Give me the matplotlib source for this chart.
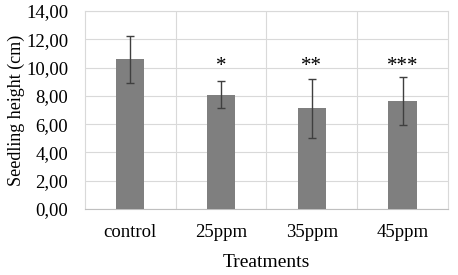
import matplotlib.pyplot as plt
import numpy as np

# data
treatments = ["control", "25ppm", "35ppm", "45ppm"]
heights = [10.59, 8.08, 7.12, 7.66]
errors = [1.66, 0.97, 2.08, 1.70]
stars = ["", "*", "**", "***"]
y_ticks = [0, 2, 4, 6, 8, 10, 12, 14]

plt.rcParams["font.family"] = ["Liberation Serif", "DejaVu Serif"]

fig = plt.figure(figsize=(4.58, 2.75), dpi=100)
ax = fig.add_axes([0.1856, 0.24, 0.7924, 0.72])

x = np.arange(len(treatments))
ax.bar(x, heights, width=0.31, color="#7f7f7f", zorder=3,
       yerr=errors, capsize=3,
       error_kw=dict(ecolor="#3f3f3f", elinewidth=1, capthick=1, zorder=4))

for xi, s in zip(x, stars):
    if s:
        ax.text(xi, 10.1, s, ha="center", va="center", fontsize=15, zorder=5)

ax.set_xlim(-0.5, len(treatments) - 0.5)
ax.set_ylim(0, 14)
ax.set_yticks(y_ticks)
ax.set_yticklabels([f"{v:.2f}".replace(".", ",") for v in y_ticks])
ax.set_xticks(x)
ax.set_xticklabels(treatments)
ax.set_xticks(np.arange(len(treatments) - 1) + 0.5, minor=True)

ax.grid(axis="y", color="#d9d9d9", linewidth=0.8, zorder=0)
ax.grid(axis="x", which="minor", color="#d9d9d9", linewidth=0.8, zorder=0)
ax.tick_params(axis="both", which="both", length=0, labelsize=13.5)
ax.tick_params(axis="x", pad=11)
ax.tick_params(axis="y", pad=12)

for side in ["top", "right", "left"]:
    ax.spines[side].set_color("#d9d9d9")
ax.spines["bottom"].set_color("#bfbfbf")

ax.set_ylabel("Seedling height (cm)", fontsize=13)
ax.set_xlabel("Treatments", fontsize=14)
ax.yaxis.set_label_coords(-0.19, 0.5)
ax.xaxis.set_label_coords(0.5, -0.268)
ax.xaxis.label.set_va("center")
ax.yaxis.label.set_va("center")

fig.savefig("out.png", dpi=100)
